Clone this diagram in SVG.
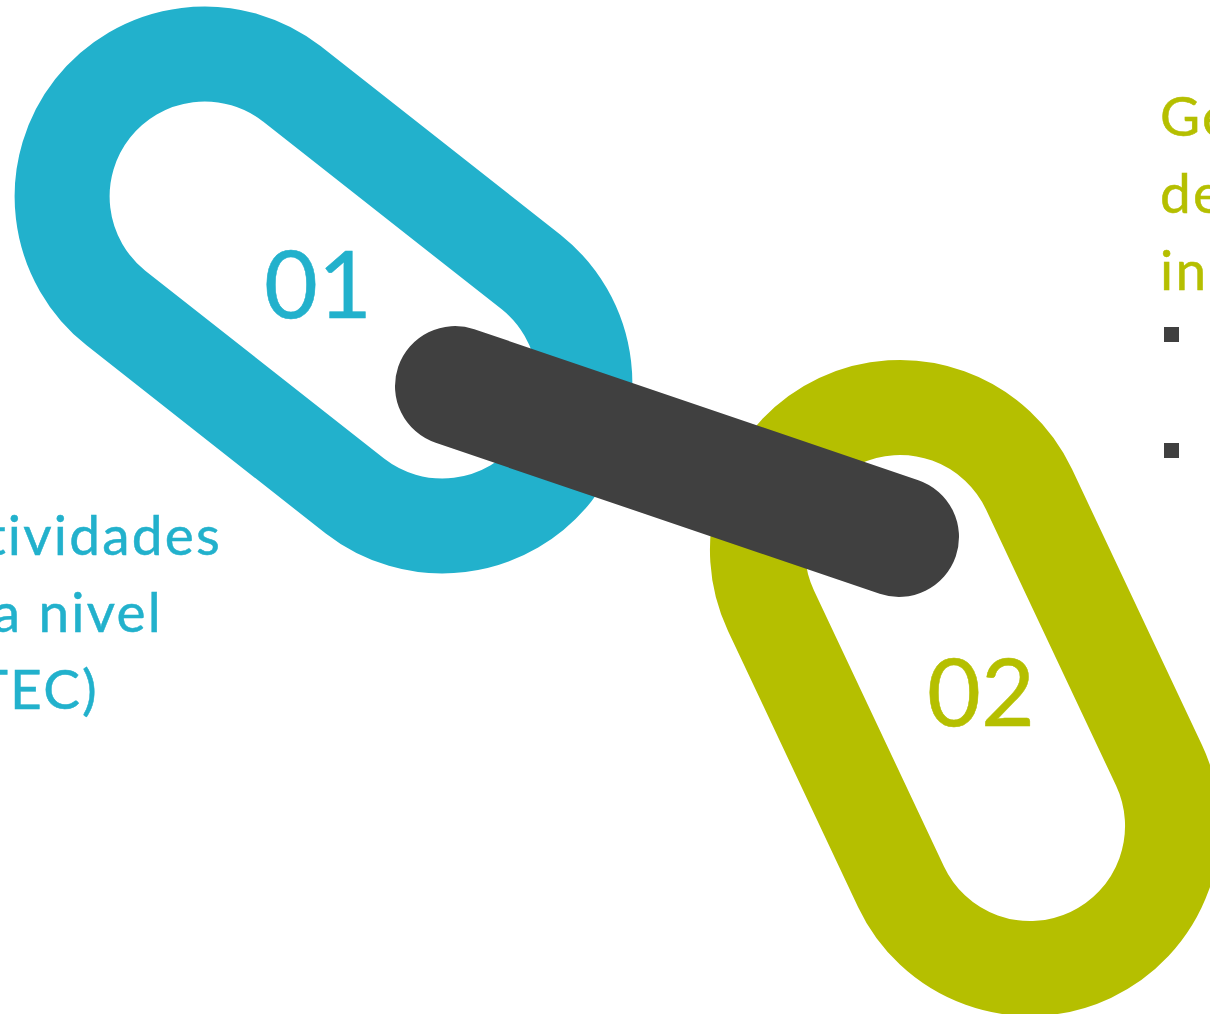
<svg xmlns="http://www.w3.org/2000/svg" width="1210" height="1014" viewBox="0 0 1210 1014">
<style>
text{font-family:"Lato","Open Sans",sans-serif}
.ring{fill:none;stroke-width:95}
.blue{fill:#22b1cc;stroke:#22b1cc;stroke-width:.5px}
.green{fill:#b5bf00;stroke:#b5bf00;stroke-width:.5px}
.num{font-size:93px}
.body{font-size:55px;letter-spacing:2.2px}
.dark{fill:#404040}
</style>
<rect width="1210" height="1014" fill="#fff"/>
<g id="link-01">
<path class="ring" stroke="#22b1cc" d="M292.1 84L531.1 272A142.5 142.5 0 0 1 354.9 496L115.9 308A142.5 142.5 0 0 1 292.1 84Z"/>
<text class="num blue" x="264" y="318">01</text>
</g>
<g id="link-02">
<path class="ring" stroke="#b5bf00" d="M1029 489.3L1159 765.3A142.5 142.5 0 0 1 901 886.7L771 610.7A142.5 142.5 0 0 1 1029 489.3Z"/>
<text class="num green" x="927" y="726">02</text>
</g>
<g id="connectors">
<line x1="455" y1="386" x2="899" y2="537" stroke="#404040" stroke-width="120" stroke-linecap="round"/>
</g>
<g id="text-01">
<text class="body blue" x="222" y="555" text-anchor="end">ctividades</text>
<text class="body blue" x="163" y="632" text-anchor="end">a nivel</text>
<text class="body blue" x="99" y="709" text-anchor="end">TEC)</text>
</g>
<g id="text-02">
<text class="body green" x="1160" y="136">Ge</text>
<text class="body green" x="1160" y="213">de</text>
<text class="body green" x="1160" y="290">in</text>
<rect class="dark" x="1164" y="327" width="15" height="15"/>
<rect class="dark" x="1164" y="443" width="15" height="15"/>
</g>
</svg>
